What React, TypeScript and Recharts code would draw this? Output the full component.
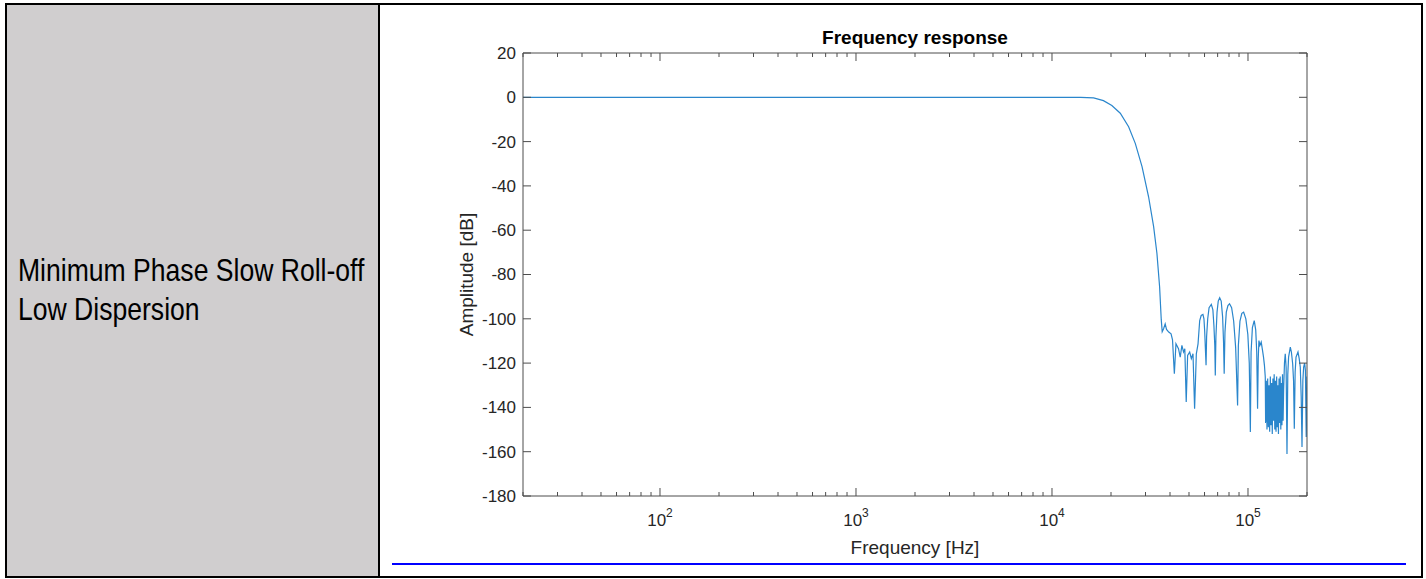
import React from 'react'
import { LineChart, Line, XAxis, YAxis } from 'recharts'

// frequency response (Hz, dB)
const freqHz = [
  20, 40, 100, 300, 1000, 3000, 10000, 14000, 16300, 18300, 20200, 22300, 24600, 26600,
  28800, 31100, 33000, 34300, 35400, 36100, 36500, 37100, 37800, 38400, 39400, 40500,
  41200, 42100, 42900, 44200, 45100, 46000, 46900, 47600, 48400, 49200, 50400, 51400,
  52400, 53400, 54500, 55600, 56700, 57700, 58900, 59600, 60100, 61100, 61500, 62300,
  63300, 65000, 66200, 67000, 67700, 68100, 68600, 69500, 70500, 71700, 73000, 74200,
  75000, 75600, 76300, 77500, 79000, 80500, 82500, 84500, 86500, 88500, 89300, 91000,
  93000, 95000, 97500, 99800, 101500, 102800, 103700, 105300, 107600, 109500, 110800,
  111900, 112800, 113700, 115000, 116800, 118500, 120000, 121300, 122500, 123000, 124000,
  125000, 126000, 127000, 128000, 129000, 130000, 131000, 132000, 133000, 134000, 135000,
  136000, 137000, 138000, 139000, 140000, 141000, 142000, 143000, 144000, 145000, 146000,
  147000, 148000, 149000, 150000, 151000, 152000, 153500, 154900, 156500, 158100, 159600,
  161100, 164400, 166500, 169000, 170800, 172300, 174000, 175800, 179900, 182500, 184800,
  186800, 188600, 190500, 192300, 194500, 196300, 198200, 200000,
]

const amplitudeDb = [
  0, 0, 0, 0, 0, 0, 0, 0, -0.3, -1.5, -3.7, -7.2, -13.3, -20.8,
  -31.3, -44.9, -58.4, -70.4, -85.5, -100.5, -105.8, -104.5, -102.3, -104.8, -106, -106.8,
  -109.5, -124.8, -111.3, -113.5, -117.3, -112, -115, -113.5, -137.6, -116.5, -115, -118,
  -115.8, -140.6, -115.8, -111.3, -100.8, -98.5, -98, -100, -105.3, -121, -108, -100,
  -95, -93.5, -96, -103, -112, -125.6, -108, -97, -92, -90.5, -92, -99,
  -110, -124.8, -106, -97, -94, -93.2, -95, -101, -113, -139.1, -112, -101,
  -97.5, -97, -100, -107, -120, -151.1, -115, -104, -100.8, -105, -115,
  -140.6, -118, -109.8, -112, -110.5, -114, -117.3, -121, -126.3, -147, -128,
  -150, -127, -149, -130, -151, -126, -148, -129, -152, -127, -146,
  -125, -150, -128, -151, -126, -149, -130, -152, -127, -147, -126,
  -150, -129, -148, -125, -146, -132, -120, -115.8, -122, -161, -125,
  -117.3, -112.8, -115, -120.3, -128, -149.6, -124, -117.3, -115, -118, -121.8,
  -135, -157.9, -128, -121.8, -120, -123.3, -153.4, -126,
]

const xTicks = [
  20, 30, 40, 50, 60, 70, 80, 90,
  100, 200, 300, 400, 500, 600, 700, 800, 900,
  1000, 2000, 3000, 4000, 5000, 6000, 7000, 8000, 9000,
  10000, 20000, 30000, 40000, 50000, 60000, 70000, 80000, 90000,
  100000, 200000,
]
const xMajorTicks = [100, 1000, 10000, 100000]
const xTickExponents = ['2', '3', '4', '5']
const yTicks = [20, 0, -20, -40, -60, -80, -100, -120, -140, -160, -180]

const data = freqHz.map((f, i) => ({ f, db: amplitudeDb[i] }))

const AXIS = '#4d4d4d'
const TEXT = '#262626'
const FONT = '"Liberation Sans", Arial, Helvetica, sans-serif'

function BottomTick({ x, y, payload }: any) {
  const idx = xMajorTicks.indexOf(payload.value)
  const len = idx >= 0 ? 8 : 4
  return (
    <g>
      <line x1={x} x2={x} y1={y} y2={y - len} stroke={AXIS} />
      {idx >= 0 && (
        <text x={x} y={y + 30} textAnchor="middle" fill={TEXT} fontSize={17} fontFamily={FONT}>
          10
          <tspan dy={-9} fontSize={12}>
            {xTickExponents[idx]}
          </tspan>
        </text>
      )}
    </g>
  )
}

function TopTick({ x, y, payload }: any) {
  const len = xMajorTicks.includes(payload.value) ? 8 : 4
  return <line x1={x} x2={x} y1={y} y2={y + len} stroke={AXIS} />
}

function LeftTick({ x, y, payload }: any) {
  return (
    <g>
      <line x1={x} x2={x + 8} y1={y} y2={y} stroke={AXIS} />
      <text x={x - 7} y={y} dy="0.35em" textAnchor="end" fill={TEXT} fontSize={17} fontFamily={FONT}>
        {payload.value}
      </text>
    </g>
  )
}

function RightTick({ x, y }: any) {
  return <line x1={x} x2={x - 8} y1={y} y2={y} stroke={AXIS} />
}

export default function App() {
  return (
    <div
      style={{
        position: 'absolute',
        left: 0,
        top: 0,
        width: 1426,
        height: 579,
        background: '#fff',
        fontFamily: FONT,
      }}
    >
      {/* table frame */}
      <div
        style={{
          position: 'absolute',
          left: 5,
          top: 3,
          width: 1418,
          height: 575,
          border: '2px solid #000',
          boxSizing: 'border-box',
        }}
      />
      <div style={{ position: 'absolute', left: 7, top: 5, width: 371, height: 571, background: '#d0cecf' }} />
      <div style={{ position: 'absolute', left: 378, top: 3, width: 2, height: 575, background: '#000' }} />
      <div
        style={{
          position: 'absolute',
          left: 18,
          top: 251,
          fontSize: 32,
          lineHeight: '39px',
          color: '#000',
          whiteSpace: 'nowrap',
          transform: 'scaleX(0.83)',
          transformOrigin: '0 0',
        }}
      >
        Minimum Phase Slow Roll-off
        <br />
        Low Dispersion
      </div>
      <div style={{ position: 'absolute', left: 392, top: 563, width: 1014, height: 2, background: '#0000ff' }} />

      {/* chart */}
      <div
        style={{
          position: 'absolute',
          left: 523,
          top: 27.5,
          width: 784,
          textAlign: 'center',
          fontSize: 19,
          lineHeight: '19px',
          fontWeight: 'bold',
          color: '#000',
        }}
      >
        Frequency response
      </div>
      <div style={{ position: 'absolute', left: 380, top: 5 }}>
        <LineChart width={1040} height={571} data={data} margin={{ top: 47, right: 112, bottom: 20, left: 83 }}>
          <XAxis
            dataKey="f"
            type="number"
            scale="log"
            domain={[20, 200000]}
            allowDataOverflow
            ticks={xTicks}
            interval={0}
            height={60}
            tickSize={0}
            tickMargin={0}
            tickLine={false}
            axisLine={{ stroke: AXIS }}
            tick={<BottomTick />}
            label={{
              value: 'Frequency [Hz]',
              position: 'insideBottom',
              offset: 2.5,
              fill: TEXT,
              fontSize: 19,
              fontFamily: FONT,
            }}
          />
          <XAxis
            xAxisId="top"
            orientation="top"
            dataKey="f"
            type="number"
            scale="log"
            domain={[20, 200000]}
            allowDataOverflow
            ticks={xTicks}
            interval={0}
            height={1}
            tickSize={0}
            tickMargin={0}
            tickLine={false}
            axisLine={{ stroke: AXIS }}
            tick={<TopTick />}
          />
          <YAxis
            type="number"
            domain={[-180, 20]}
            allowDataOverflow
            ticks={yTicks}
            interval={0}
            width={60}
            tickSize={0}
            tickMargin={0}
            tickLine={false}
            axisLine={{ stroke: AXIS }}
            tick={<LeftTick />}
            label={{
              value: 'Amplitude [dB]',
              angle: -90,
              position: 'insideLeft',
              offset: 3,
              fill: TEXT,
              fontSize: 19,
              fontFamily: FONT,
              style: { textAnchor: 'middle' },
            }}
          />
          <YAxis
            yAxisId="right"
            orientation="right"
            type="number"
            domain={[-180, 20]}
            allowDataOverflow
            ticks={yTicks}
            interval={0}
            width={1}
            tickSize={0}
            tickMargin={0}
            tickLine={false}
            axisLine={{ stroke: AXIS }}
            tick={<RightTick />}
          />
          <Line
            type="linear"
            dataKey="db"
            stroke="#2a86cc"
            strokeWidth={1.2}
            dot={false}
            isAnimationActive={false}
          />
        </LineChart>
      </div>
    </div>
  )
}
